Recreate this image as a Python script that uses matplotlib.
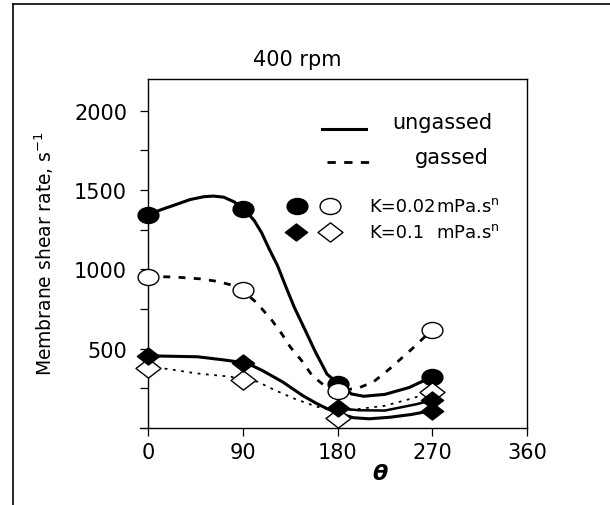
import numpy as np
import matplotlib
matplotlib.use("Agg")
import matplotlib.pyplot as plt
from matplotlib.path import Path
from matplotlib.transforms import Affine2D
from matplotlib.lines import Line2D

plt.rcParams['font.family'] = ['DejaVu Sans']
plt.rcParams['lines.scale_dashes'] = False

# measured points, theta in degrees, shear rate in 1/s
theta = [0, 90, 180, 270]
k002_ungassed = [1343, 1381, 280, 323]
k002_gassed = [955, 868, 236, 620]
k01_ungassed = [455, 410, 125, 110]
k01_gassed = [379, 302, 65, 228]
extra_theta = [270]
extra_k01 = [175]

# fitted curves
c1_x = [0, 12, 25, 40, 53, 62, 72, 82, 90, 96, 101, 108, 115, 123, 131, 139, 148, 159, 170, 178, 185, 193, 205, 225, 248, 270]
c1_y = [1343, 1375, 1405, 1440, 1458, 1462, 1455, 1425, 1381, 1345, 1307, 1230, 1130, 1024, 890, 760, 635, 480, 340, 295, 270, 215, 200, 212, 255, 323]
c2_x = [0, 25, 50, 65, 79, 90, 104, 118, 127, 135, 146, 156, 168, 180, 199, 214, 229, 251, 270]
c2_y = [955, 952, 940, 925, 902, 868, 784, 676, 594, 512, 424, 330, 265, 236, 250, 290, 370, 500, 620]
c3_x = [0, 47, 71, 82, 90, 100, 109, 128, 147, 160, 170, 180, 195, 210, 230, 250, 270]
c3_y = [455, 449, 430, 420, 410, 390, 361, 290, 204, 155, 122, 95, 65, 58, 68, 85, 110]
c4_x = [180, 200, 225, 240, 255, 270]
c4_y = [125, 112, 110, 130, 150, 175]
c5_x = [0, 18, 45, 79, 90, 104, 120, 139, 160, 180, 200, 225, 250, 270]
c5_y = [379, 373, 345, 323, 302, 292, 240, 185, 135, 105, 120, 140, 185, 228]

xticks = [0, 90, 180, 270, 360]
yticks = [500, 1000, 1500, 2000]

# picture looks stretched sideways, so markers are wide
ellipse = Path.unit_circle().transformed(Affine2D().scale(1.3, 1.0))
diamond = Path([(-1.3, 0), (0, 1), (1.3, 0), (0, -1), (-1.3, 0)],
               [Path.MOVETO, Path.LINETO, Path.LINETO, Path.LINETO, Path.CLOSEPOLY])

fig = plt.figure(figsize=(6.1, 5.06), dpi=100)
ax = fig.add_axes([148 / 610, 77 / 506, 379 / 610, 349 / 506])

lw = 2.2
ax.plot(c1_x, c1_y, color='black', lw=lw, solid_joinstyle='round', zorder=2)
ax.plot(c2_x, c2_y, color='black', lw=2.0, dashes=(5, 6), zorder=2)
ax.plot(c3_x, c3_y, color='black', lw=lw, solid_joinstyle='round', zorder=2)
ax.plot(c4_x, c4_y, color='black', lw=1.8, solid_joinstyle='round', zorder=2)
ax.plot(c5_x, c5_y, color='black', lw=1.3, dashes=(2, 4), zorder=2)

ax.plot(theta, k002_ungassed, ls='none', marker=ellipse, ms=15, mfc='black', mec='black', zorder=3, clip_on=False)
ax.plot(theta, k002_gassed, ls='none', marker=ellipse, ms=15, mfc='white', mec='black', mew=1.0, zorder=4, clip_on=False)
ax.plot(theta, k01_gassed, ls='none', marker=diamond, ms=18, mfc='white', mec='black', mew=1.0, zorder=5, clip_on=False)
ax.plot(theta, k01_ungassed, ls='none', marker=diamond, ms=16, mfc='black', mec='black', zorder=6, clip_on=False)
ax.plot(extra_theta, extra_k01, ls='none', marker=diamond, ms=16, mfc='black', mec='black', zorder=6, clip_on=False)

ax.set_xlim(0, 360)
ax.set_ylim(0, 2200)
ax.set_xticks(xticks)
ax.set_yticks(yticks)
ax.set_yticks([250, 750, 1250, 1750], minor=True)
ax.tick_params(axis='both', direction='out', length=6, width=0.9, labelsize=15, top=False, right=False)
ax.tick_params(axis='y', which='minor', direction='out', length=6, width=0.9)
ax.tick_params(axis='y', pad=9)
ax.tick_params(axis='x', pad=4)
for s in ax.spines.values():
    s.set_linewidth(1.0)
ax.spines['bottom'].set_bounds(-8, 360)

ax.text(0.611, -0.128, '\u03b8', transform=ax.transAxes, fontsize=16, fontstyle='italic',
        fontweight='bold', ha='center', va='center')
ax.set_ylabel('Membrane shear rate, s$^{-1}$', fontsize=13.5)
ax.yaxis.set_label_coords(-0.243, 0.504)
fig.text(297 / 610, 1 - 60 / 506, '400 rpm', fontsize=15, ha='center', va='center')

# legend drawn by hand
T = ax.transAxes
ax.plot([0.459, 0.575], [0.857, 0.857], color='black', lw=lw, transform=T, clip_on=False)
ax.plot([0.472, 0.586], [0.762, 0.762], color='black', lw=2.0, dashes=(6, 6), transform=T, clip_on=False)
ax.text(0.644, 0.877, 'ungassed', transform=T, fontsize=15, va='center')
ax.text(0.704, 0.777, 'gassed', transform=T, fontsize=15, va='center')
ax.plot([0.393], [0.636], marker=ellipse, ms=15, mfc='black', mec='black', transform=T, clip_on=False)
ax.plot([0.480], [0.636], marker=ellipse, ms=15, mfc='white', mec='black', mew=1.0, transform=T, clip_on=False)
ax.plot([0.390], [0.562], marker=diamond, ms=16, mfc='black', mec='black', transform=T, clip_on=False)
ax.plot([0.480], [0.562], marker=diamond, ms=18, mfc='white', mec='black', mew=1.0, transform=T, clip_on=False)
ax.text(0.584, 0.636, 'K=0.02', transform=T, fontsize=13, va='center')
ax.text(0.584, 0.562, 'K=0.1', transform=T, fontsize=13, va='center')
ax.text(0.760, 0.636, 'mPa.s$^{\\mathrm{n}}$', transform=T, fontsize=13, va='center')
ax.text(0.760, 0.562, 'mPa.s$^{\\mathrm{n}}$', transform=T, fontsize=13, va='center')

# outer frame (top and left edges only)
fig.add_artist(Line2D([13 / 610, 1.0], [1 - 5 / 506, 1 - 5 / 506], color='black', lw=1.2))
fig.add_artist(Line2D([13 / 610, 13 / 610], [1 - 5 / 506, 0.0], color='black', lw=1.2))

fig.savefig('out.png', dpi=100)
